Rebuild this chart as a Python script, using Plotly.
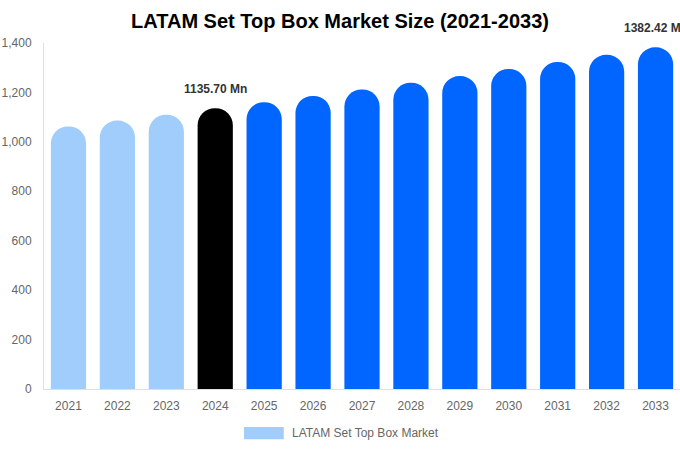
import plotly.graph_objects as go

# ------------------------------Données------------------------------
years = ['2021', '2022', '2023', '2024', '2025', '2026', '2027',
         '2028', '2029', '2030', '2031', '2032', '2033']
market_size = [1062.0, 1086.0, 1110.0, 1135.70, 1160.0, 1186.0, 1212.0,
               1239.0, 1266.0, 1295.0, 1323.0, 1352.0, 1382.42]
bar_colors = ['#a1cdfd'] * 3 + ['#000000'] + ['#0066ff'] * 9
labelled_years = ['2024', '2033']
series_name = 'LATAM Set Top Box Market'

# ------------------------------Tracé------------------------------
fig = go.Figure()
fig.add_trace(go.Bar(x=years, y=market_size, marker=dict(color=bar_colors, line=dict(width=0)),
                     name=series_name, showlegend=False))

for yr in labelled_years:
    idx = years.index(yr)  # axe catégoriel : position = indice
    val = market_size[idx]
    fig.add_annotation(x=idx, y=val, text=f'{val:.2f} Mn', showarrow=False,
                       yanchor='bottom', yshift=10,
                       font=dict(family='Liberation Sans', size=12, color='#333333', weight='bold'))

# légende maison (rectangle large)
fig.add_shape(type='rect', xref='paper', yref='paper', x0=0.3145, x1=0.377, y0=-0.145, y1=-0.110,
              fillcolor='#a1cdfd', line=dict(width=0))
fig.add_annotation(xref='paper', yref='paper', x=0.387, y=-0.127, text=series_name,
                   showarrow=False, xanchor='left', yanchor='middle',
                   font=dict(family='Liberation Sans', size=12, color='#666666'))

fig.update_layout(
    width=680, height=450,
    margin=dict(l=44, r=0, t=43, b=61, autoexpand=False),
    paper_bgcolor='white', plot_bgcolor='white',
    title=dict(text='LATAM Set Top Box Market Size (2021-2033)', x=0.5, xanchor='center',
               y=0.953, yanchor='middle',
               font=dict(family='Liberation Sans', size=20, color='#000000', weight='bold')),
    bargap=0.28,
    barcornerradius='50%',
    font=dict(family='Liberation Sans', size=12, color='#666666'),
)
# plage fixe : sinon les annotations élargissent l'axe
fig.update_xaxes(type='category', range=[-0.5, len(years) - 0.5], automargin=False,
                 showgrid=False, showline=True, linecolor='#e0e0e0', linewidth=1,
                 ticks='', ticklabelstandoff=6, tickfont=dict(size=12, color='#666666'))
fig.update_yaxes(range=[0, 1400], dtick=200, tickformat=',', automargin=False, showgrid=False,
                 showline=True, linecolor='#e0e0e0', linewidth=1, zeroline=False,
                 ticks='', ticklabelstandoff=9, tickfont=dict(size=12, color='#666666'))

# pas de marge autour du graphique dans la page
fig.write_html('out.html', config={'displayModeBar': False},
               post_script="document.body.style.margin='0';")
